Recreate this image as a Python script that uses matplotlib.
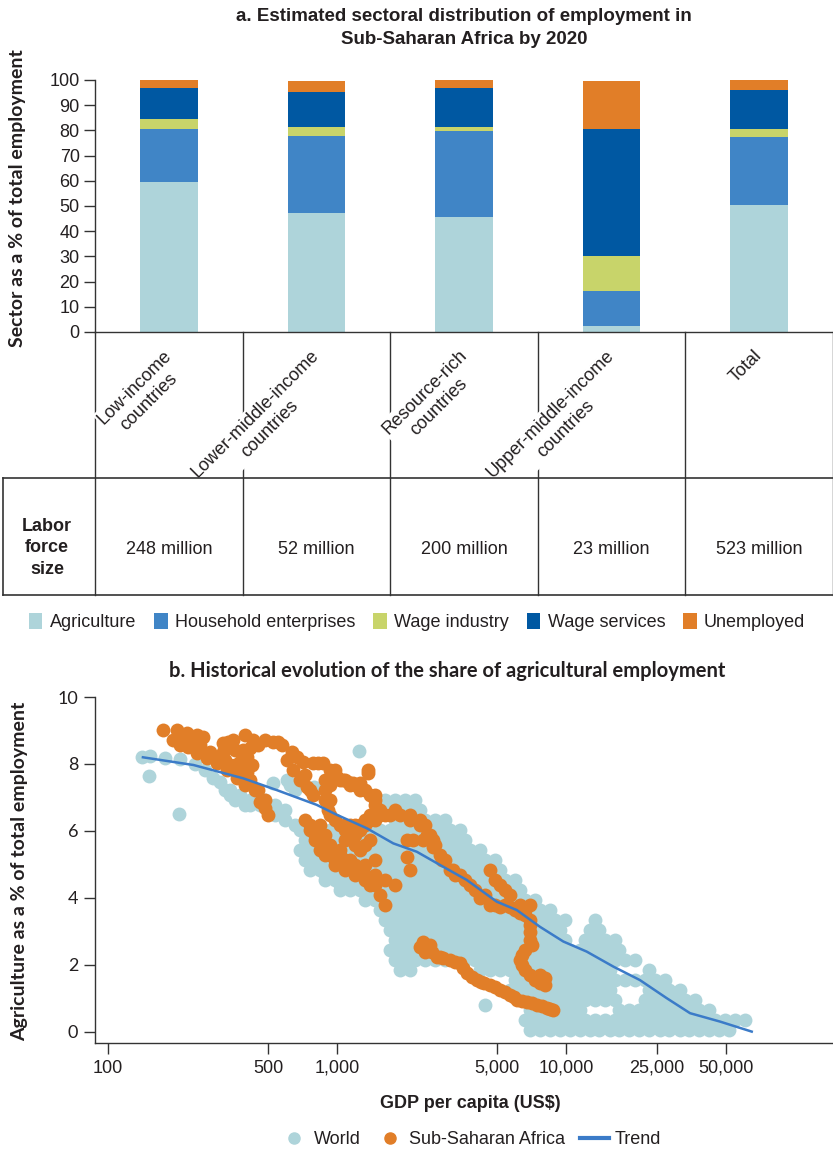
import matplotlib
matplotlib.use('Agg')
import matplotlib.pyplot as plt
import matplotlib.transforms as mtransforms
from matplotlib.lines import Line2D
from matplotlib.patches import Patch
from matplotlib.font_manager import FontProperties
from matplotlib.ticker import FixedLocator, NullLocator

# ---------------- panel a data ----------------
categories = ['Low-income\ncountries', 'Lower-middle-income\ncountries', 'Resource-rich\ncountries',
              'Upper-middle-income\ncountries', 'Total']
sectors = ['Agriculture', 'Household enterprises', 'Wage industry', 'Wage services', 'Unemployed']
agriculture = [59.7, 47.4, 45.7, 2.5, 50.5]
household = [20.9, 30.4, 34.1, 13.9, 26.9]
wage_industry = [3.9, 3.6, 1.6, 13.9, 3.2]
wage_services = [12.3, 13.8, 15.4, 50.3, 15.4]
unemployed = [3.2, 4.4, 3.2, 19.0, 4.0]
labor_force = ['248 million', '52 million', '200 million', '23 million', '523 million']

# ---------------- panel b data ----------------
trend_gdp = [142, 236, 390, 546, 815, 1000, 1350, 1760, 2230, 2910, 3680, 4980, 6090, 7690,
             9730, 12300, 16100, 21000, 27500, 34800, 47000, 64700]
trend_share = [8.20, 7.97, 7.57, 7.22, 6.78, 6.48, 6.08, 5.63, 5.38, 4.93, 4.54, 3.89, 3.64, 3.14,
               2.70, 2.40, 1.95, 1.55, 1.01, 0.56, 0.31, 0.01]

ssa_gdp = [
    174, 200, 221, 245, 260,
    192, 206, 223, 245, 271, 299, 331, 366, 396, 438, 461, 485, 499,
    318, 318, 334, 351, 396, 430, 388, 405, 377, 405, 405, 417, 426, 452,
    485, 525, 575, 636, 605, 643, 689, 741, 786,
    710, 786, 869, 931, 1000, 1063, 1175, 1258, 1366, 1366,
    886, 980, 1083, 1198, 1325, 1465, 1538, 1465, 1325, 1198, 1083, 980, 911, 886, 886,
    725, 762, 801, 842, 886, 980, 1083, 1198, 1325, 1391, 1538, 1620,
    842, 886, 931, 1029, 1083,
    1083, 1083, 1138, 1198, 1258, 1258, 1325, 1391, 1465, 1325, 1790, 1620,
    1620, 1700, 1880, 2080, 2300, 2420, 2540, 2680, 2810, 2960,
    3110, 3280, 3620, 4000, 4430, 4900, 5410, 5990, 6620, 6930,
    2020, 2020, 2080, 2140, 2370, 2620,
    4640, 4900, 5410, 5670, 6620, 6930, 6930, 6930, 6620, 6270, 6620, 7320, 8090, 7670,
    2370, 2460, 2600, 2730, 2900, 3110, 3430, 3700, 4090, 4400, 4640, 5130, 5670, 6090,
    6760, 7480, 8270, 8800,
    # denser parts of the traces
    206, 228, 252, 279, 308, 341, 377, 417, 452, 485,
    324, 358, 358,
    550, 668, 725, 762, 826, 980, 1116,
    931, 1029, 1138, 1258, 1391, 1465, 1391, 1391, 931, 931, 1029, 1258, 1538, 1465,
    762, 801, 842, 886, 931, 980, 1029, 1138, 1198, 1258, 1325, 1391, 1465, 1465, 1325, 1198, 1138,
    1790, 2080, 2300, 2460, 2620, 2880, 3200, 3450, 3800, 4200, 4640, 5130, 5670, 6270,
    5130, 6270, 6930, 7100, 6450, 6450, 6930, 7670, 8090,
    2300, 2420, 2540, 2810, 3280, 3550, 3900, 4250, 4900, 5410, 5900, 6420, 7100, 7870, 8500,
]
ssa_share = [
    9.01, 9.01, 8.93, 8.87, 8.81,
    8.72, 8.57, 8.51, 8.33, 8.18, 8.03, 7.82, 7.58, 7.37, 7.22, 6.87, 6.69, 6.48,
    8.63, 8.36, 8.66, 8.72, 8.87, 8.72, 8.42, 8.21, 8.06, 7.76, 7.46, 8.48, 7.97, 8.57,
    8.72, 8.66, 8.57, 8.36, 8.12, 7.82, 7.52, 7.31, 7.07,
    8.06, 8.03, 8.03, 7.82, 7.61, 7.52, 7.43, 7.43, 7.73, 7.82,
    7.52, 7.67, 7.52, 7.37, 7.22, 6.93, 6.63, 6.33, 6.18, 6.18, 6.18, 6.33, 6.63, 6.93, 7.22,
    6.33, 6.03, 5.73, 5.43, 5.28, 4.99, 4.84, 4.69, 4.54, 4.39, 4.09, 3.79,
    6.18, 5.88, 5.58, 5.28, 5.13,
    6.03, 5.73, 5.88, 5.58, 5.43, 6.03, 6.33, 5.73, 5.13, 4.99, 4.39, 4.54,
    6.48, 6.48, 6.48, 6.33, 6.33, 6.18, 5.88, 5.58, 5.28, 5.13,
    4.84, 4.69, 4.54, 4.24, 4.09, 3.79, 3.79, 3.64, 3.64, 3.79,
    5.73, 5.22, 4.84, 5.73, 5.73, 5.52,
    4.84, 4.54, 4.24, 4.09, 3.49, 3.19, 2.97, 2.75, 2.45, 2.15, 1.85, 1.55, 1.40, 1.70,
    2.70, 2.54, 2.40, 2.24, 2.20, 2.15, 2.06, 1.76, 1.55, 1.47, 1.40, 1.25, 1.10, 0.96,
    0.90, 0.81, 0.72, 0.66,
    # denser parts of the traces
    8.87, 8.72, 8.57, 8.36, 8.18, 7.97, 7.76, 7.52, 7.22, 6.93,
    8.12, 8.42, 7.97,
    8.66, 8.21, 7.67, 7.22, 8.03, 7.82, 7.46,
    7.37, 7.52, 7.37, 7.22, 7.07, 6.78, 6.48, 6.33, 6.93, 6.48, 6.18, 6.18, 6.48, 7.07,
    6.18, 5.88, 5.73, 5.58, 5.28, 5.13, 5.43, 5.13, 4.99, 4.84, 4.69, 4.54, 4.39, 4.69, 5.58, 5.88, 6.18,
    6.63, 6.48, 6.18, 5.88, 5.73, 5.13, 4.84, 4.69, 4.39, 4.00, 3.79, 3.73, 3.73, 3.55,
    4.39, 3.79, 3.34, 2.60, 2.30, 2.00, 1.70, 1.45, 1.60,
    2.55, 2.40, 2.60, 2.24, 2.10, 1.90, 1.65, 1.50, 1.33, 1.18, 1.03, 0.93, 0.86, 0.76, 0.70,
]

# world cloud, read row by row (one share level per row)
world_row_share = [6.93, 6.63, 6.33, 6.03, 5.73, 5.43, 5.13, 4.84, 4.54, 4.24, 3.94, 3.64,
                   3.34, 3.04, 2.75, 2.45, 2.15, 1.85, 1.55, 1.25, 0.96, 0.66, 0.36, 0.06]
world_row_gdp = [
    [1620, 1790, 1980, 2190],
    [1540, 1700, 1880, 2080, 2300],
    [1790, 1980, 2190, 2420, 2680, 2960],
    [689, 762, 842, 931, 1030, 1140, 1260, 1390, 1540, 1700, 1880, 2080, 2300, 2540, 2810, 3110, 3430],
    [725, 801, 886, 980, 1080, 1200, 1330, 1470, 1620, 1790, 1980, 2190, 2420, 2680, 2960, 3280, 3620],
    [689, 762, 842, 931, 1030, 1140, 1260, 1390, 1540, 1700, 1880, 2080, 2300, 2540, 2810, 3110, 3430,
     3800, 4200],
    [725, 801, 886, 980, 1080, 1200, 1330, 1470, 1620, 1790, 1980, 2190, 2420, 2680, 2960, 3280, 3620,
     4000, 4430, 4900],
    [762, 842, 931, 1030, 1140, 1260, 1390, 1540, 1700, 1880, 2080, 2300, 2540, 2810, 3110, 3430, 3800,
     4200, 4640, 5130],
    [886, 980, 1080, 1200, 1330, 1470, 1620, 1790, 1980, 2190, 2420, 2680, 2960, 3280, 3620, 4000, 4430,
     4900, 5410, 5990],
    [1030, 1140, 1260, 1390, 1540, 1700, 1880, 2080, 2300, 2540, 2810, 3110, 3430, 3800, 4200, 4640,
     5130, 5670, 6270],
    [1330, 1470, 1620, 1790, 1980, 2190, 2420, 2680, 2960, 3280, 3620, 4000, 4430, 4900, 5410, 5990,
     6620, 7320],
    [1540, 1700, 1880, 2080, 2300, 2540, 2810, 3110, 3430, 3800, 4200, 4640, 5130, 5670, 6270, 6930,
     7670, 8480],
    [1620, 1790, 1980, 2190, 2420, 2680, 2960, 3280, 3620, 4000, 4430, 4900, 5410, 5990, 6620, 7320,
     8090, 8950, 9900, 13400],
    [1700, 1880, 2080, 2300, 2540, 2810, 3110, 3430, 3800, 4200, 4640, 5130, 5670, 6270, 6930, 7670,
     8480, 9370, 12700, 14000],
    [1790, 1980, 2190, 2420, 2680, 2960, 3280, 3620, 4000, 4430, 4900, 5410, 5990, 6620, 7320, 8090,
     8950, 9900, 12100, 13400, 14800, 16400],
    [1700, 1880, 2080, 2300, 2540, 2810, 3110, 3430, 3800, 4200, 4640, 5130, 5670, 6270, 6930, 7670,
     8480, 9370, 10400, 11500, 12700, 14000, 15500, 17100],
    [1790, 1980, 2190, 2420, 2680, 2960, 3280, 3620, 4000, 4430, 4900, 5410, 5990, 6620, 7320, 8090,
     8950, 9900, 10900, 12100, 13400, 14800, 16400, 18100, 20000],
    [1880, 2080, 4200, 4640, 5130, 5670, 6270, 6930, 7670, 8480, 9370, 10400, 11500, 12700, 14000,
     15500, 23100],
    [5990, 6620, 7320, 8090, 8950, 9900, 10900, 12100, 13400, 14800, 16400, 18100, 20000, 22100, 24500,
     27100],
    [5670, 6270, 6930, 7670, 8480, 9370, 10400, 11500, 12700, 14000, 15500, 23100, 25600, 28300, 31300],
    [6620, 7320, 8090, 8950, 9900, 10900, 12100, 13400, 14800, 16400, 22100, 24500, 27100, 29900, 33100,
     36600],
    [6930, 7670, 8480, 9370, 10400, 11500, 17100, 18900, 20900, 23100, 25600, 28300, 31300, 34600,
     38200, 42300],
    [6620, 7320, 8090, 8950, 9900, 10900, 12100, 13400, 14800, 16400, 18100, 20000, 22100, 24500, 27100,
     29900, 33100, 36600, 40400, 44700, 49500, 54700, 60500],
    [6930, 7670, 8480, 9370, 10400, 11500, 12700, 14000, 15500, 17100, 18900, 20900, 23100, 25600, 28300,
     31300, 34600, 38200, 42300, 46700, 51700],
]
# early part of the world cloud and isolated points
world_extra_gdp = [141, 152, 177, 206, 240, 265, 287, 308, 151, 204, 525, 1250,
                   324, 341, 358, 396, 417, 461, 510, 536, 593, 655, 725, 762, 801, 842, 886, 1029, 1138,
                   341, 377, 417, 485, 536, 593, 623, 655, 605, 790, 4430]
world_extra_share = [8.21, 8.24, 8.18, 8.15, 7.99, 7.82, 7.58, 7.46, 7.64, 6.51, 7.43, 8.39,
                     7.22, 7.07, 6.93, 6.78, 6.78, 6.78, 6.63, 6.48, 6.33, 6.18, 6.03, 5.58, 5.28, 4.99,
                     4.69, 4.39, 4.39,
                     7.22, 7.07, 6.93, 6.93, 6.78, 6.63, 7.37, 7.22, 7.52, 7.31, 0.81]

gdp_ticks = [100, 500, 1000, 5000, 10000, 25000, 50000]
gdp_tick_labels = ['100', '500', '1,000', '5,000', '10,000', '25,000', '50,000']

world_gdp = list(world_extra_gdp)
world_share = list(world_extra_share)
for s, row in zip(world_row_share, world_row_gdp):
    world_gdp += row
    world_share += [s] * len(row)

# ---------------- style ----------------
C_AGRI = '#AED4DA'
C_HH = '#4085C6'
C_WI = '#C8D46A'
C_WS = '#0058A2'
C_UN = '#E17E28'
C_TREND = '#3B7BC8'
TXT = '#231F20'
LINE = '#333333'
NARROW = ['Liberation Sans', 'DejaVu Sans']
WIDE = ['Lato', 'DejaVu Sans']
FS = 13

W, H = 833, 1153
def fy(py):
    return 1 - py / H

fig = plt.figure(figsize=(W / 100, H / 100), dpi=100, facecolor='white')

# ---------------- panel a ----------------
ax1 = fig.add_axes([95 / W, fy(332), (833 - 95) / W, (332 - 80) / H])
x = list(range(len(categories)))
bottom = [0] * len(x)
for vals, col in zip([agriculture, household, wage_industry, wage_services, unemployed],
                     [C_AGRI, C_HH, C_WI, C_WS, C_UN]):
    ax1.bar(x, vals, bottom=bottom, width=0.39, color=col, linewidth=0, zorder=2)
    bottom = [b + v for b, v in zip(bottom, vals)]
ax1.set_xlim(-0.5, 4.5)
ax1.set_ylim(0, 100)
ax1.set_yticks(range(0, 101, 10))
ax1.set_xticks([])
for sp in ['top', 'right']:
    ax1.spines[sp].set_visible(False)
for sp in ['left', 'bottom']:
    ax1.spines[sp].set_color(LINE)
    ax1.spines[sp].set_linewidth(1.0)
ax1.tick_params(axis='y', direction='out', length=8, width=1, color=LINE, labelcolor=TXT,
                labelsize=FS, pad=3)
for lab in ax1.get_yticklabels():
    lab.set_fontfamily(NARROW)

fig.text(464 / W, fy(28), 'a. Estimated sectoral distribution of employment in\nSub-Saharan Africa by 2020',
         ha='center', va='center', fontsize=13.5, fontweight='bold', family=NARROW, color=TXT,
         linespacing=1.5)
fig.text(18 / W, fy(198), 'Sector as a % of total employment', rotation=90, ha='center', va='center',
         fontsize=14, fontweight='bold', family=WIDE, color=TXT)

# table under the bars
trans = mtransforms.blended_transform_factory(ax1.transData, fig.transFigure)
for b in [-0.5, 0.5, 1.5, 2.5, 3.5, 4.5]:
    fig.add_artist(Line2D([b, b], [fy(332), fy(595)], transform=trans, color=LINE, lw=1.0, zorder=1))
for py in [478, 595]:
    fig.add_artist(Line2D([3 / W, 1], [fy(py), fy(py)], transform=fig.transFigure, color=LINE, lw=1.2,
                          zorder=6))
fig.add_artist(Line2D([3 / W, 3 / W], [fy(478), fy(595)], transform=fig.transFigure, color=LINE, lw=1.2,
                      zorder=6))

for i, lab in enumerate(categories):
    fig.text(i - 0.04, fy(347), lab, transform=trans, rotation=45, rotation_mode='anchor',
             ha='right', va='top', multialignment='center', fontsize=FS, family=NARROW, color=TXT,
             linespacing=1.3, bbox=dict(facecolor='white', edgecolor='none', pad=1), zorder=5)
    fig.text(i, fy(550), labor_force[i], transform=trans, ha='center', va='center', fontsize=FS,
             family=NARROW, color=TXT)
fig.text(47 / W, fy(548), 'Labor\nforce\nsize', ha='center', va='center', fontsize=FS,
         fontweight='bold', family=NARROW, color=TXT, linespacing=1.35)

handles_a = [Patch(facecolor=c, edgecolor='none', label=s)
             for s, c in zip(sectors, [C_AGRI, C_HH, C_WI, C_WS, C_UN])]
fig.legend(handles=handles_a, loc='center', bbox_to_anchor=(417 / W, fy(622)), ncol=5, frameon=False,
           prop=FontProperties(family=NARROW, size=FS), handlelength=0.75, handleheight=1.0,
           handletextpad=0.4, columnspacing=1.0, borderaxespad=0, labelcolor=TXT)

# ---------------- panel b ----------------
ax2 = fig.add_axes([95 / W, fy(1043), (833 - 95) / W, (1043 - 697) / H])
ax2.scatter(world_gdp, world_share, s=100, color=C_AGRI, linewidths=0, zorder=2)
ax2.scatter(ssa_gdp, ssa_share, s=100, color=C_UN, linewidths=0, zorder=3)
ax2.plot(trend_gdp, trend_share, color=C_TREND, lw=1.8, zorder=4)
ax2.set_xscale('log')
ax2.set_xlim(87.7, 146500)
ax2.set_ylim(-0.33, 10)
ax2.xaxis.set_major_locator(FixedLocator(gdp_ticks))
ax2.xaxis.set_minor_locator(NullLocator())
ax2.set_xticklabels(gdp_tick_labels)
ax2.set_yticks(range(0, 11, 2))
for sp in ['top', 'right']:
    ax2.spines[sp].set_visible(False)
for sp in ['left', 'bottom']:
    ax2.spines[sp].set_color(LINE)
    ax2.spines[sp].set_linewidth(1.0)
ax2.tick_params(direction='out', length=8, width=1, color=LINE, labelcolor=TXT, pad=4)
ax2.tick_params(axis='x', labelsize=FS)
ax2.tick_params(axis='y', labelsize=13)
for lab in ax2.get_xticklabels():
    lab.set_fontfamily(NARROW)
for lab in ax2.get_yticklabels():
    lab.set_fontfamily(WIDE)

fig.text(447 / W, fy(671), 'b. Historical evolution of the share of agricultural employment',
         ha='center', va='center', fontsize=14.5, fontweight='bold', family=WIDE, color=TXT)
fig.text(20 / W, fy(871), 'Agriculture as a % of total employment', rotation=90, ha='center',
         va='center', fontsize=14, fontweight='bold', family=WIDE, color=TXT)
fig.text(470 / W, fy(1103), r'GDP per capita (US\$)', ha='center', va='center', fontsize=FS,
         fontweight='bold', family=NARROW, color=TXT)

handles_b = [Line2D([], [], marker='o', ls='none', color=C_AGRI, markersize=8, label='World'),
             Line2D([], [], marker='o', ls='none', color=C_UN, markersize=8, label='Sub-Saharan Africa'),
             Line2D([], [], color=C_TREND, lw=3, label='Trend')]
fig.legend(handles=handles_b, loc='center', bbox_to_anchor=(470 / W, fy(1140)), ncol=3, frameon=False,
           prop=FontProperties(family=NARROW, size=FS), handlelength=1.6, handletextpad=0.3,
           columnspacing=0.8, borderaxespad=0, labelcolor=TXT)

fig.savefig('out.png', dpi=100, facecolor='white')
